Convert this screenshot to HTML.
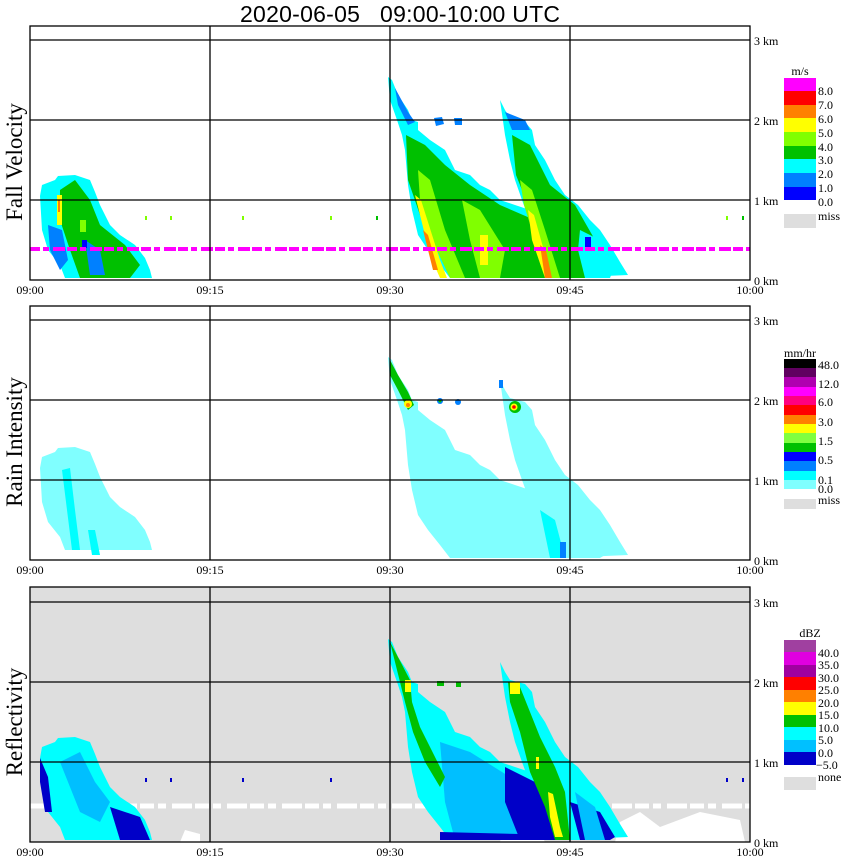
<!DOCTYPE html>
<html><head><meta charset="utf-8"><style>
html,body{margin:0;padding:0;background:#fff;}
svg{display:block;}
text{font-family:"Liberation Serif",serif;}
</style></head><body>
<svg width="850" height="868" viewBox="0 0 850 868" xmlns="http://www.w3.org/2000/svg">
<defs>
<path id="L" d="M40,196 L42,185 L55,180 L58,176 L75,175 L90,180 L95,192 L100,205 L110,225 L120,235 L135,245 L145,258 L150,270 L152,278 L65,278 L60,265 L48,250 L42,230 Z"/>
<path id="A" d="M388,77 L392,80 L398,95 L408,110 L412,120 L418,122 L418,130 L430,140 L445,150 L455,170 L470,175 L480,185 L490,190 L500,200 L515,205 L530,210 L545,225 L560,230 L580,240 L595,250 L605,262 L610,272 L600,278 L450,278 L440,265 L428,250 L418,235 L412,210 L408,185 L405,150 L402,135 L397,120 L390,100 Z"/>
<path id="B" d="M500,100 L505,110 L510,118 L525,122 L532,130 L535,145 L545,160 L555,180 L565,195 L578,205 L590,220 L600,230 L610,245 L620,262 L628,275 L560,278 L545,265 L538,245 L530,222 L522,200 L515,180 L510,160 L505,135 Z"/>
<path id="H1" d="M434,118 L442,117 L444,124 L436,126 Z"/>
<path id="H2" d="M454,118 L462,118 L462,125 L455,125 Z"/>
</defs>

<text x="240" y="22" font-size="23" textLength="320" xml:space="preserve" style="font-family:'Liberation Sans',sans-serif">2020-06-05   09:00-10:00 UTC</text>

<!-- ===== Panel 1 ===== -->
<g>
<use href="#L" fill="#00ffff"/>
<path d="M60,190 L75,180 L90,200 L100,225 L125,245 L140,265 L130,278 L80,278 L70,250 L60,220 Z" fill="#00c000"/>
<path d="M48,225 L62,230 L68,260 L60,270 L50,250 Z" fill="#0080ff"/>
<path d="M85,240 L100,250 L105,275 L90,275 Z" fill="#0080ff"/>
<rect x="57" y="195" width="5" height="30" fill="#ffff00"/>
<rect x="58" y="200" width="2" height="12" fill="#ff8000"/>
<rect x="80" y="220" width="6" height="12" fill="#80ff00"/>
<rect x="82" y="240" width="5" height="8" fill="#0000ff"/>
<use href="#A" fill="#00ffff"/>
<use href="#B" fill="#00ffff"/>
<use href="#H1" fill="#0080ff"/><use href="#H2" fill="#0080ff"/>
<path d="M395,88 L408,112 L415,122 L408,125 L398,105 Z" fill="#0080ff"/>
<path d="M505,112 L525,120 L530,130 L512,130 Z" fill="#0080ff"/>
<path d="M406,135 L425,145 L445,165 L470,185 L500,205 L530,218 L550,235 L575,278 L455,278 L438,250 L420,215 L408,180 Z" fill="#00c000"/>
<path d="M418,170 L430,180 L445,230 L465,278 L450,278 L432,240 L420,200 Z" fill="#80ff00"/>
<path d="M462,200 L480,210 L505,250 L500,278 L480,278 L470,240 Z" fill="#80ff00"/>
<path d="M512,135 L530,145 L550,185 L575,205 L595,240 L605,278 L565,278 L545,250 L530,210 L516,175 Z" fill="#00c000"/>
<path d="M520,180 L532,190 L545,230 L560,278 L548,278 L535,240 L524,205 Z" fill="#80ff00"/>
<path d="M415,195 L421,200 L440,260 L447,278 L440,278 L430,255 Z" fill="#ffff00"/>
<path d="M423,230 L428,235 L438,270 L433,270 Z" fill="#ff8000"/>
<path d="M528,210 L534,215 L548,265 L552,278 L545,278 L532,240 Z" fill="#ffff00"/>
<path d="M540,245 L546,250 L552,278 L545,278 Z" fill="#ff8000"/>
<rect x="480" y="235" width="8" height="30" fill="#ffff00"/>
<path d="M580,230 L600,240 L615,265 L610,278 L585,278 L578,250 Z" fill="#00ffff"/>
<rect x="585" y="237" width="6" height="14" fill="#0000ff"/>
<line x1="30" y1="249" x2="750" y2="249" stroke="#ff00ff" stroke-width="4" stroke-dasharray="10 3 6 4 12 2"/>
<rect x="145" y="216" width="2" height="4" fill="#80ff00"/><rect x="170" y="216" width="2" height="4" fill="#80ff00"/>
<rect x="242" y="216" width="2" height="4" fill="#80ff00"/><rect x="330" y="216" width="2" height="4" fill="#80ff00"/>
<rect x="376" y="216" width="2" height="4" fill="#00c000"/><rect x="726" y="216" width="2" height="4" fill="#80ff00"/>
<rect x="742" y="216" width="2" height="4" fill="#00c000"/>
</g>
<g stroke="#000" stroke-width="1.3" fill="none">
<rect x="30" y="26" width="720" height="254"/>
<line x1="30" y1="40" x2="750" y2="40"/><line x1="30" y1="120" x2="750" y2="120"/><line x1="30" y1="200" x2="750" y2="200"/>
<line x1="210" y1="26" x2="210" y2="280"/><line x1="390" y1="26" x2="390" y2="280"/><line x1="570" y1="26" x2="570" y2="280"/>
</g>

<!-- ===== Panel 2 ===== -->
<g transform="translate(0,280)">
<use href="#L" fill="#80ffff" transform="translate(0,-8)"/>
<path d="M62,190 L70,188 L75,230 L80,270 L72,270 Z" fill="#00ffff"/>
<path d="M88,250 L95,250 L100,275 L92,275 Z" fill="#00ffff"/>
<use href="#A" fill="#80ffff"/>
<use href="#B" fill="#80ffff"/>
<path d="M480,215 L520,225 L560,240 L590,255 L600,278 L455,278 Z" fill="#80ffff"/>
<path d="M540,230 L555,240 L565,278 L550,278 Z" fill="#00ffff"/>
<rect x="560" y="262" width="6" height="16" fill="#0080ff"/>
<path d="M390,80 L398,95 L408,112 L414,125 L408,130 L398,110 L390,95 Z" fill="#00c000"/>
<circle cx="408" cy="124" r="4" fill="#ffff00"/><circle cx="408" cy="125" r="2" fill="#ff8000"/>
<circle cx="440" cy="121" r="3" fill="#0080ff"/><circle cx="440" cy="121" r="1.5" fill="#00c000"/>
<circle cx="458" cy="122" r="3" fill="#0080ff"/>
<circle cx="515" cy="127" r="6" fill="#00c000"/><circle cx="514" cy="127" r="3.5" fill="#ffff00"/><circle cx="514" cy="127" r="1.8" fill="#ff0000"/>
<rect x="499" y="100" width="4" height="8" fill="#0080ff"/>
</g>
<g stroke="#000" stroke-width="1.3" fill="none">
<rect x="30" y="306" width="720" height="254"/>
<line x1="30" y1="320" x2="750" y2="320"/><line x1="30" y1="400" x2="750" y2="400"/><line x1="30" y1="480" x2="750" y2="480"/>
<line x1="210" y1="306" x2="210" y2="560"/><line x1="390" y1="306" x2="390" y2="560"/><line x1="570" y1="306" x2="570" y2="560"/>
</g>

<!-- ===== Panel 3 ===== -->
<rect x="30" y="587" width="720" height="255" fill="#dedede"/>
<g transform="translate(0,562)">
<line x1="30" y1="244" x2="750" y2="244" stroke="#fff" stroke-width="5" stroke-dasharray="14 4 8 6 20 3"/>
<path d="M500,280 L505,255 L515,250 L525,265 L540,270 L545,280 Z" fill="#fff"/>
<path d="M615,280 L620,260 L640,250 L660,265 L700,250 L740,258 L745,280 Z" fill="#fff"/>
<path d="M180,280 L185,268 L200,272 L200,280 Z" fill="#fff"/>
<use href="#L" fill="#00ffff"/>
<path d="M40,196 L48,215 L52,250 L45,250 L40,220 Z" fill="#0000c8"/>
<path d="M110,245 L140,255 L150,278 L120,278 Z" fill="#0000c8"/>
<path d="M60,200 L80,190 L95,220 L110,240 L100,260 L80,250 Z" fill="#00bfff"/>
<use href="#A" fill="#00ffff"/>
<use href="#B" fill="#00ffff"/>
<path d="M440,180 L470,190 L510,215 L530,278 L455,278 L445,240 Z" fill="#00bfff"/>
<path d="M505,205 L545,225 L565,250 L555,278 L520,278 L505,240 Z" fill="#0000c8"/>
<path d="M570,240 L600,250 L615,275 L610,278 L580,278 Z" fill="#0000c8"/>
<path d="M575,230 L595,245 L605,278 L585,278 Z" fill="#00bfff"/>
<path d="M440,270 L520,272 L520,278 L440,278 Z" fill="#0000c8"/>
<path d="M390,80 L398,95 L410,118 L412,140 L420,165 L435,195 L445,215 L440,225 L425,200 L413,170 L405,140 L395,100 Z" fill="#00c000"/>
<path d="M508,120 L520,125 L530,150 L540,175 L555,205 L565,230 L570,278 L555,278 L545,245 L530,210 L520,170 L510,140 Z" fill="#00c000"/>
<rect x="405" y="118" width="6" height="12" fill="#ffff00"/>
<rect x="510" y="120" width="10" height="12" fill="#ffff00"/>
<path d="M548,230 L553,232 L560,265 L563,275 L555,275 L550,255 Z" fill="#ffff00"/>
<rect x="536" y="195" width="3" height="12" fill="#ffff00"/>
<rect x="437" y="119" width="7" height="5" fill="#00c000"/>
<rect x="456" y="120" width="5" height="5" fill="#00c000"/>
<rect x="145" y="216" width="2" height="4" fill="#0000c8"/><rect x="170" y="216" width="2" height="4" fill="#0000c8"/>
<rect x="242" y="216" width="2" height="4" fill="#0000c8"/><rect x="330" y="216" width="2" height="4" fill="#0000c8"/>
<rect x="726" y="216" width="2" height="4" fill="#0000c8"/><rect x="742" y="216" width="2" height="4" fill="#0000c8"/>
</g>
<g stroke="#000" stroke-width="1.3" fill="none">
<rect x="30" y="587" width="720" height="255"/>
<line x1="30" y1="602" x2="750" y2="602"/><line x1="30" y1="682" x2="750" y2="682"/><line x1="30" y1="762" x2="750" y2="762"/>
<line x1="210" y1="587" x2="210" y2="842"/><line x1="390" y1="587" x2="390" y2="842"/><line x1="570" y1="587" x2="570" y2="842"/>
</g>

<g font-size="12" fill="#000">
<text x="754" y="45">3 km</text><text x="754" y="125">2 km</text><text x="754" y="205">1 km</text><text x="754" y="285">0 km</text>
<text x="754" y="325">3 km</text><text x="754" y="405">2 km</text><text x="754" y="485">1 km</text><text x="754" y="565">0 km</text>
<text x="754" y="607">3 km</text><text x="754" y="687">2 km</text><text x="754" y="767">1 km</text><text x="754" y="847">0 km</text>
</g>
<g font-size="12" fill="#000" text-anchor="middle">
<text x="30" y="294">09:00</text><text x="210" y="294">09:15</text><text x="390" y="294">09:30</text><text x="570" y="294">09:45</text><text x="750" y="294">10:00</text>
<text x="30" y="574">09:00</text><text x="210" y="574">09:15</text><text x="390" y="574">09:30</text><text x="570" y="574">09:45</text><text x="750" y="574">10:00</text>
<text x="30" y="856">09:00</text><text x="210" y="856">09:15</text><text x="390" y="856">09:30</text><text x="570" y="856">09:45</text><text x="750" y="856">10:00</text>
</g>

<g font-size="23" fill="#000" text-anchor="middle">
<text transform="translate(22,162) rotate(-90)">Fall Velocity</text>
<text transform="translate(22,442) rotate(-90)">Rain Intensity</text>
<text transform="translate(22,722) rotate(-90)">Reflectivity</text>
</g>

<g>
<rect x="784" y="78" width="32" height="14" fill="#ff00ff"/>
<rect x="784" y="91" width="32" height="14" fill="#ff0000"/>
<rect x="784" y="105" width="32" height="14" fill="#ff8000"/>
<rect x="784" y="118" width="32" height="14" fill="#ffff00"/>
<rect x="784" y="132" width="32" height="14" fill="#80ff00"/>
<rect x="784" y="146" width="32" height="14" fill="#00c000"/>
<rect x="784" y="159" width="32" height="14" fill="#00ffff"/>
<rect x="784" y="173" width="32" height="14" fill="#0080ff"/>
<rect x="784" y="187" width="32" height="13" fill="#0000ff"/>
<rect x="784" y="214" width="32" height="14" fill="#dedede"/>
<g font-size="12">
<text x="800" y="75" text-anchor="middle">m/s</text>
<text x="818" y="95">8.0</text><text x="818" y="109">7.0</text><text x="818" y="123">6.0</text><text x="818" y="137">5.0</text>
<text x="818" y="151">4.0</text><text x="818" y="164">3.0</text><text x="818" y="178">2.0</text><text x="818" y="192">1.0</text>
<text x="818" y="206">0.0</text><text x="818" y="220">miss</text>
</g>
</g>

<g>
<rect x="784" y="359" width="32" height="10" fill="#000000"/>
<rect x="784" y="368" width="32" height="10" fill="#600060"/>
<rect x="784" y="377" width="32" height="10" fill="#b000b0"/>
<rect x="784" y="387" width="32" height="10" fill="#ff00ff"/>
<rect x="784" y="396" width="32" height="10" fill="#ff0080"/>
<rect x="784" y="405" width="32" height="10" fill="#ff0000"/>
<rect x="784" y="415" width="32" height="10" fill="#ff8000"/>
<rect x="784" y="424" width="32" height="10" fill="#ffff00"/>
<rect x="784" y="433" width="32" height="10" fill="#80ff40"/>
<rect x="784" y="443" width="32" height="10" fill="#00c000"/>
<rect x="784" y="452" width="32" height="10" fill="#0000ff"/>
<rect x="784" y="461" width="32" height="10" fill="#0080ff"/>
<rect x="784" y="471" width="32" height="10" fill="#00ffff"/>
<rect x="784" y="480" width="32" height="9" fill="#80ffff"/>
<rect x="784" y="499" width="32" height="10" fill="#dedede"/>
<g font-size="12">
<text x="800" y="357" text-anchor="middle">mm/hr</text>
<text x="818" y="369">48.0</text><text x="818" y="388">12.0</text><text x="818" y="406">6.0</text><text x="818" y="426">3.0</text>
<text x="818" y="445">1.5</text><text x="818" y="464">0.5</text><text x="818" y="484">0.1</text><text x="818" y="493">0.0</text>
<text x="818" y="504">miss</text>
</g>
</g>

<g>
<rect x="784" y="640" width="32" height="13" fill="#a040a0"/>
<rect x="784" y="652" width="32" height="13" fill="#e000e0"/>
<rect x="784" y="665" width="32" height="13" fill="#a000a0"/>
<rect x="784" y="677" width="32" height="13" fill="#ff0000"/>
<rect x="784" y="690" width="32" height="13" fill="#ff8000"/>
<rect x="784" y="702" width="32" height="13" fill="#ffff00"/>
<rect x="784" y="715" width="32" height="13" fill="#00c000"/>
<rect x="784" y="727" width="32" height="13" fill="#00ffff"/>
<rect x="784" y="740" width="32" height="13" fill="#00c0ff"/>
<rect x="784" y="752" width="32" height="13" fill="#0000c8"/>
<rect x="784" y="777" width="32" height="13" fill="#dedede"/>
<g font-size="12">
<text x="810" y="637" text-anchor="middle">dBZ</text>
<text x="818" y="657">40.0</text><text x="818" y="669">35.0</text><text x="818" y="682">30.0</text><text x="818" y="694">25.0</text>
<text x="818" y="707">20.0</text><text x="818" y="719">15.0</text><text x="818" y="732">10.0</text><text x="818" y="744">5.0</text>
<text x="818" y="757">0.0</text><text x="816" y="769">−5.0</text><text x="818" y="781">none</text>
</g>
</g>
</svg>
</body></html>
